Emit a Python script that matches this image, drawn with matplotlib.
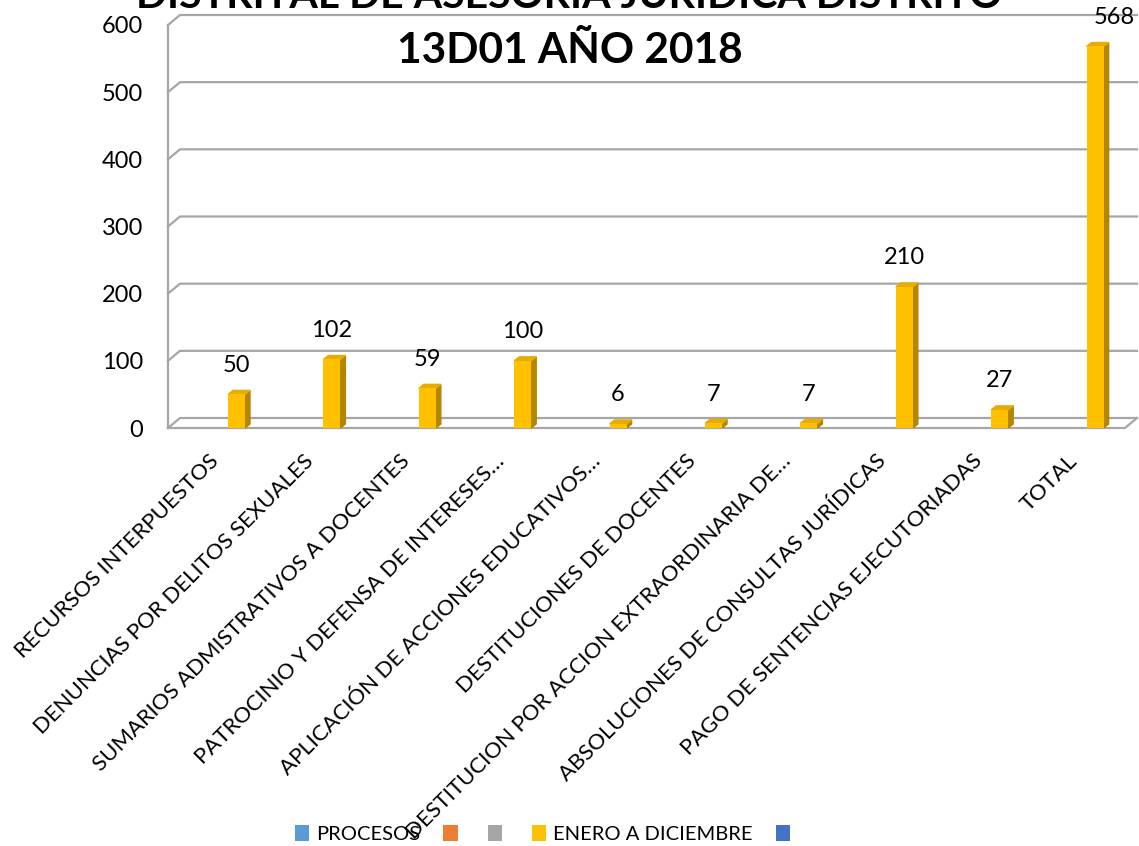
import matplotlib
matplotlib.use('Agg')
import matplotlib.pyplot as plt
from matplotlib.patches import Polygon, Patch
from matplotlib.transforms import ScaledTranslation

plt.rcParams['font.family'] = ['Lato', 'DejaVu Sans']

# datos del grafico
categorias = [
    'RECURSOS INTERPUESTOS',
    'DENUNCIAS POR DELITOS SEXUALES',
    'SUMARIOS ADMISTRATIVOS A DOCENTES',
    'PATROCINIO Y DEFENSA DE INTERESES…',
    'APLICACIÓN DE ACCIONES EDUCATIVOS…',
    'DESTITUCIONES DE DOCENTES',
    'DESTITUCION POR ACCION EXTRAORDINARIA DE…',
    'ABSOLUCIONES DE CONSULTAS JURÍDICAS',
    'PAGO DE SENTENCIAS EJECUTORIADAS',
    'TOTAL',
]
enero_diciembre = [50, 102, 59, 100, 6, 7, 7, 210, 27, 568]
y_ticks = [0, 100, 200, 300, 400, 500, 600]
leyenda = ['PROCESOS', '', '', 'ENERO A DICIEMBRE', '']
colores_leyenda = ['#5B9BD5', '#ED7D31', '#A5A5A5', '#FFC000', '#4472C4']

W, H = 1139, 846
fig = plt.figure(figsize=(W / 100, H / 100), dpi=100)
ax = fig.add_axes([168 / W, (H - 428) / H, 957 / W, 403 / H])
ax.set_xlim(-0.718, 9.313)
ax.set_ylim(0, 600)
for s in ax.spines.values():
    s.set_visible(False)
ax.patch.set_visible(False)

x0, x1 = ax.get_xlim()
px_x = (x1 - x0) / 957  # unidades de datos por pixel
px_y = 600 / 403

# paredes y lineas de division (efecto 3D)
gris = '#a6a6a6'
bx, by = 12 * px_x, 10 * px_y
for v in y_ticks:
    ax.plot([x0, x0 + bx, x1 + bx], [v, v + by, v + by], color=gris, lw=1.6, clip_on=False, zorder=1)
ax.plot([x0, x0], [0, 600], color=gris, lw=1.6, clip_on=False, zorder=1)
ax.plot([x0, x1, x1 + bx], [0, 0, by], color=gris, lw=1.6, clip_on=False, zorder=1)

# barras
xs = list(range(len(categorias)))
w = 0.178
dx, dy = 5 * px_x, 4 * px_y
ax.bar(xs, enero_diciembre, width=w, color='#FFC000', zorder=4)
for x, h in zip(xs, enero_diciembre):
    lado = [(x + w / 2, 0), (x + w / 2 + dx, dy), (x + w / 2 + dx, h + dy), (x + w / 2, h)]
    tapa = [(x - w / 2, h), (x + w / 2, h), (x + w / 2 + dx, h + dy), (x - w / 2 + dx, h + dy)]
    ax.add_patch(Polygon(lado, closed=True, color='#B38600', zorder=3, clip_on=False))
    ax.add_patch(Polygon(tapa, closed=True, color='#E6AC00', zorder=3, clip_on=False))
    corr = 14 if categorias[x] == 'TOTAL' else 0  # etiqueta del total movida a la derecha
    ax.annotate(str(h), (x, h), xytext=(corr, 21), textcoords='offset points',
                ha='center', va='center', fontsize=17, annotation_clip=False)

ax.set_yticks(y_ticks)
ax.tick_params(axis='y', length=0, pad=18, labelsize=17)
ax.set_xticks(xs)
ax.set_xticklabels(categorias, rotation=45, ha='right', va='center',
                   rotation_mode='anchor', fontsize=15.9)
ax.tick_params(axis='x', length=0, pad=21.5)
desplazar = ScaledTranslation(-21 / 100, 0, fig.dpi_scale_trans)
for lbl in ax.get_xticklabels():
    lbl.set_transform(lbl.get_transform() + desplazar)

# titulo (la primera linea queda cortada arriba)
fig.text(0.5, 1 - 8 / H, 'DISTRITAL DE ASESORÍA JURÍDICA DISTRITO', ha='center',
         va='baseline', fontsize=29.5, fontweight='bold')
fig.text(0.5, 1 - 63 / H, '13D01 AÑO 2018', ha='center', va='baseline',
         fontsize=30.5, fontweight='bold')

handles = [Patch(facecolor=c, edgecolor='none') for c in colores_leyenda]
fig.legend(handles, leyenda, loc='center', bbox_to_anchor=(546 / W, 1 - 834 / H),
           ncol=5, frameon=False, fontsize=14.5, handlelength=0.7, handleheight=0.8,
           handletextpad=0.35, columnspacing=1.15)

plt.savefig('out.png', dpi=100)
